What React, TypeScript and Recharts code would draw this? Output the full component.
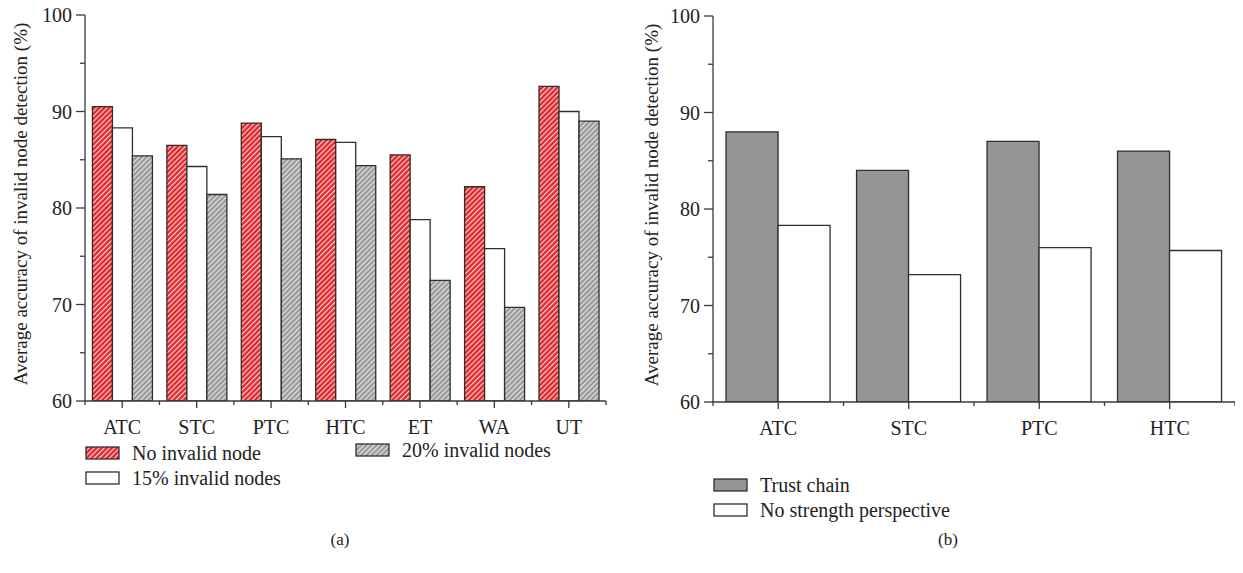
import React from 'react'
import { BarChart, Bar, XAxis, YAxis } from 'recharts'

// Panel (a): detection accuracy per method under three invalid-node ratios
const methodsA = ['ATC', 'STC', 'PTC', 'HTC', 'ET', 'WA', 'UT']
const noInvalid = [90.5, 86.5, 88.8, 87.1, 85.5, 82.2, 92.6]
const invalid15 = [88.3, 84.3, 87.4, 86.8, 78.8, 75.8, 90.0]
const invalid20 = [85.4, 81.4, 85.1, 84.4, 72.5, 69.7, 89.0]

// Panel (b): trust chain versus no strength perspective
const methodsB = ['ATC', 'STC', 'PTC', 'HTC']
const trustChain = [88.0, 84.0, 87.0, 86.0]
const noStrength = [78.3, 73.2, 76.0, 75.7]

const yTicks = [60, 65, 70, 75, 80, 85, 90, 95, 100]
const yTitle = 'Average accuracy of invalid node detection (%)'

const seriesA = [
  { key: 'noInvalid', name: 'No invalid node', fill: 'url(#redHatch)' },
  { key: 'invalid15', name: '15% invalid nodes', fill: '#ffffff' },
  { key: 'invalid20', name: '20% invalid nodes', fill: 'url(#grayHatch)' },
]
const seriesB = [
  { key: 'trustChain', name: 'Trust chain', fill: '#959595' },
  { key: 'noStrength', name: 'No strength perspective', fill: '#ffffff' },
]

const dataA = methodsA.map((m, i) => ({
  method: m,
  noInvalid: noInvalid[i],
  invalid15: invalid15[i],
  invalid20: invalid20[i],
}))
const dataB = methodsB.map((m, i) => ({
  method: m,
  trustChain: trustChain[i],
  noStrength: noStrength[i],
}))

const FONT = '"Liberation Serif", "DejaVu Serif", serif'
const INK = '#222222'
const AXIS = '#3a3a3a'
const EDGE = '#2e2e2e'

function Patterns() {
  return (
    <defs>
      <pattern id="redHatch" width="3.6" height="3.6" patternUnits="userSpaceOnUse" patternTransform="rotate(45)">
        <rect width="3.6" height="3.6" fill="#e2262a" />
        <line x1="0.6" y1="0" x2="0.6" y2="3.6" stroke="#ffffff" strokeOpacity={0.85} strokeWidth="1.1" />
      </pattern>
      <pattern id="grayHatch" width="3.6" height="3.6" patternUnits="userSpaceOnUse" patternTransform="rotate(45)">
        <rect width="3.6" height="3.6" fill="#999999" />
        <line x1="0.6" y1="0" x2="0.6" y2="3.6" stroke="#ececec" strokeWidth="1.1" />
      </pattern>
    </defs>
  )
}

function YTick(props: any) {
  const { x, y, payload } = props
  const major = payload.value % 10 === 0
  return (
    <g>
      <line x1={x} x2={x - (major ? 9 : 5)} y1={y} y2={y} stroke={AXIS} strokeWidth={1.3} />
      {major && (
        <text x={x - 13} y={y} dy="0.35em" textAnchor="end" fontFamily={FONT} fontSize={20} fill={INK}>
          {payload.value}
        </text>
      )}
    </g>
  )
}

function makeXTick(band: number, count: number) {
  return function XTick(props: any) {
    const { x, y, payload, index } = props
    return (
      <g>
        <line x1={x} x2={x} y1={y} y2={y + 7} stroke={AXIS} strokeWidth={1.3} />
        <line x1={x - band / 2} x2={x - band / 2} y1={y} y2={y + 4} stroke={AXIS} strokeWidth={1.3} />
        {index === count - 1 && (
          <line x1={x + band / 2} x2={x + band / 2} y1={y} y2={y + 4} stroke={AXIS} strokeWidth={1.3} />
        )}
        <text x={x} y={y + 33} textAnchor="middle" fontFamily={FONT} fontSize={20} fill={INK}>
          {payload.value}
        </text>
      </g>
    )
  }
}

function YTitle(props: any) {
  const { cx, cy } = props
  return (
    <text
      x={cx}
      y={cy}
      transform={`rotate(-90 ${cx} ${cy})`}
      textAnchor="middle"
      dominantBaseline="central"
      fontFamily={FONT}
      fontSize={19}
      fill={INK}
    >
      {yTitle}
    </text>
  )
}

function Swatch({ fill }: { fill: string }) {
  return (
    <svg width={36} height={15} style={{ display: 'block' }}>
      <Patterns />
      <rect x={1} y={1} width={33} height={12} fill={fill} stroke={EDGE} strokeWidth={1.3} />
    </svg>
  )
}

function LegendItem({ fill, name, left, top }: { fill: string; name: string; left: number; top: number }) {
  return (
    <div style={{ position: 'absolute', left, top, display: 'flex', alignItems: 'center', whiteSpace: 'nowrap' }}>
      <Swatch fill={fill} />
      <span style={{ marginLeft: 11, fontFamily: FONT, fontSize: 20, color: INK, lineHeight: '20px' }}>{name}</span>
    </div>
  )
}

// panel geometry
const A_LEFT = 0
const A_WIDTH = 620
const A_MARGIN = { top: 15, right: 14, left: 0, bottom: 0 }
const A_YAXIS = 85
const B_LEFT = 620
const B_WIDTH = 623
const B_MARGIN = { top: 16, right: 8, left: 0, bottom: 0 }
const B_YAXIS = 93
const PLOT_H = 386
const XAXIS_H = 44

export default function App() {
  const bandA = (A_WIDTH - A_MARGIN.left - A_MARGIN.right - A_YAXIS) / methodsA.length
  const bandB = (B_WIDTH - B_MARGIN.left - B_MARGIN.right - B_YAXIS) / methodsB.length
  const XTickA = makeXTick(bandA, methodsA.length)
  const XTickB = makeXTick(bandB, methodsB.length)

  return (
    <div style={{ position: 'relative', width: 1243, height: 573, background: '#fff', margin: -8, overflow: 'hidden' }}>
      <div style={{ position: 'absolute', left: A_LEFT, top: 0 }}>
        <BarChart
          width={A_WIDTH}
          height={A_MARGIN.top + PLOT_H + XAXIS_H}
          data={dataA}
          margin={A_MARGIN}
          barGap={0}
          barCategoryGap="10%"
        >
          <Patterns />
          <XAxis
            dataKey="method"
            interval={0}
            tickSize={0}
            tickMargin={0}
            height={XAXIS_H}
            stroke={AXIS}
            strokeWidth={1.3}
            tick={(p: any) => <XTickA {...p} />}
          />
          <YAxis
            type="number"
            domain={[60, 100]}
            ticks={yTicks}
            interval={0}
            width={A_YAXIS}
            tickSize={0}
            tickMargin={0}
            stroke={AXIS}
            strokeWidth={1.3}
            tick={(p: any) => <YTick {...p} />}
            label={(p: any) => <YTitle cx={20} cy={p.viewBox.y + p.viewBox.height / 2 - 4} />}
            allowDataOverflow
          />
          {seriesA.map((s) => (
            <Bar key={s.key} dataKey={s.key} name={s.name} fill={s.fill} stroke={EDGE} strokeWidth={1.3} isAnimationActive={false} />
          ))}
        </BarChart>
      </div>

      <div style={{ position: 'absolute', left: B_LEFT, top: 0 }}>
        <BarChart
          width={B_WIDTH}
          height={B_MARGIN.top + PLOT_H + XAXIS_H}
          data={dataB}
          margin={B_MARGIN}
          barGap={0}
          barCategoryGap="10%"
        >
          <XAxis
            dataKey="method"
            interval={0}
            tickSize={0}
            tickMargin={0}
            height={XAXIS_H}
            stroke={AXIS}
            strokeWidth={1.3}
            tick={(p: any) => <XTickB {...p} />}
          />
          <YAxis
            type="number"
            domain={[60, 100]}
            ticks={yTicks}
            interval={0}
            width={B_YAXIS}
            tickSize={0}
            tickMargin={0}
            stroke={AXIS}
            strokeWidth={1.3}
            tick={(p: any) => <YTick {...p} />}
            label={(p: any) => <YTitle cx={31} cy={p.viewBox.y + p.viewBox.height / 2 - 4} />}
            allowDataOverflow
          />
          {seriesB.map((s) => (
            <Bar key={s.key} dataKey={s.key} name={s.name} fill={s.fill} stroke={EDGE} strokeWidth={1.3} isAnimationActive={false} />
          ))}
        </BarChart>
      </div>

      <LegendItem fill={seriesA[0].fill} name={seriesA[0].name} left={85} top={443} />
      <LegendItem fill={seriesA[1].fill} name={seriesA[1].name} left={85} top={468} />
      <LegendItem fill={seriesA[2].fill} name={seriesA[2].name} left={355} top={440} />

      <LegendItem fill={seriesB[0].fill} name={seriesB[0].name} left={713} top={475} />
      <LegendItem fill={seriesB[1].fill} name={seriesB[1].name} left={713} top={500} />

      <div style={{ position: 'absolute', left: 320, top: 530, width: 40, textAlign: 'center', fontFamily: FONT, fontSize: 17, color: INK }}>(a)</div>
      <div style={{ position: 'absolute', left: 928, top: 530, width: 40, textAlign: 'center', fontFamily: FONT, fontSize: 17, color: INK }}>(b)</div>
    </div>
  )
}
